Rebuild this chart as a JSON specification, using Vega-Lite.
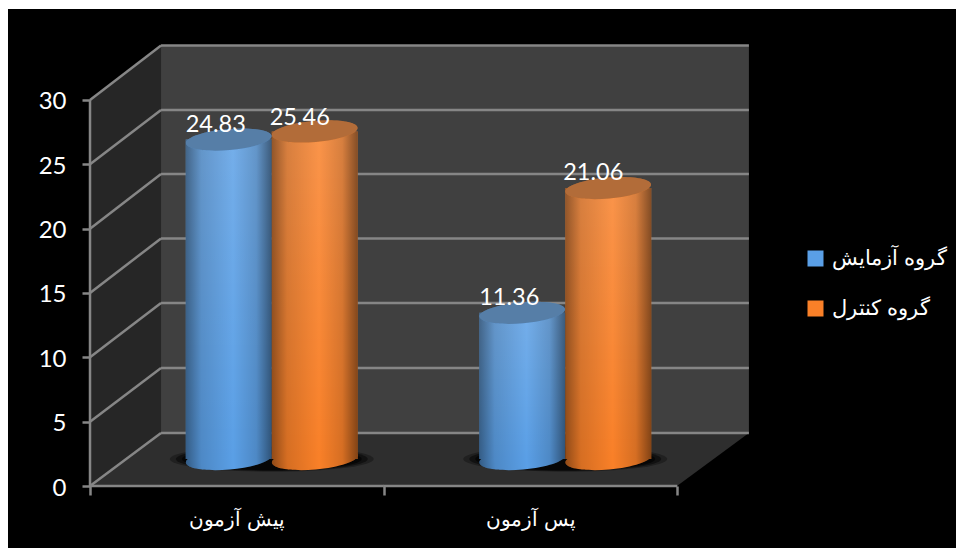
{
  "$schema": "https://vega.github.io/schema/vega-lite/v6.json",
  "autosize": "none",
  "width": 866,
  "height": 446,
  "padding": {"left": 90, "top": 40, "right": 0, "bottom": 62},
  "background": "#ffffff",
  "config": {"view": {"stroke": null}, "text": {"font": "Lato"}},
  "datasets": {
    "results": [
      {"phase": "پیش آزمون", "group": "گروه آزمایش", "score": 24.83},
      {"phase": "پیش آزمون", "group": "گروه کنترل", "score": 25.46},
      {"phase": "پس آزمون", "group": "گروه آزمایش", "score": 11.36},
      {"phase": "پس آزمون", "group": "گروه کنترل", "score": 21.06}
    ],
    "phases": [{"phase": "پیش آزمون"}, {"phase": "پس آزمون"}],
    "gridlines": [
      {"front": 0, "back": 4.12},
      {"front": 5, "back": 9.17},
      {"front": 10, "back": 14.22},
      {"front": 15, "back": 19.24},
      {"front": 20, "back": 24.25},
      {"front": 25, "back": 29.22},
      {"front": 30, "back": 34.23}
    ],
    "sideWall": [
      {"run": 0, "low": 0, "high": 30},
      {"run": 0.242, "low": 4.12, "high": 34.23}
    ],
    "floor": [
      {"level": 0, "start": 0, "end": 2},
      {"level": 4.12, "start": 0.242, "end": 2.245}
    ],
    "backWall": [{"start": 0.242, "end": 2.245, "low": 4.12, "high": 34.23}],
    "panel": [{"start": -0.2794, "end": 2.9506, "low": -4.82, "high": 37.07}]
  },
  "resolve": {"scale": {"x": "independent", "y": "independent"}},
  "layer": [
    {
      "description": "Room behind the columns: panel, walls, floor and gridlines",
      "encoding": {
        "x": {"type": "quantitative", "scale": {"domain": [0, 2.9506], "nice": false, "zero": false}, "axis": null},
        "y": {"type": "quantitative", "scale": {"domain": [0, 34.66], "nice": false, "zero": false}}
      },
      "layer": [
        {
          "data": {"name": "panel"},
          "mark": {"type": "rect", "fill": "#000000"},
          "encoding": {
            "x": {"field": "start", "type": "quantitative"},
            "x2": {"field": "end"},
            "y": {"field": "low", "type": "quantitative", "axis": {"values": [0, 5, 10, 15, 20, 25, 30], "format": "d", "title": null, "grid": false, "domain": false, "tickSize": 8, "tickWidth": 2.5, "tickColor": "#868686", "labelColor": "#ffffff", "labelFont": "Lato", "labelFontSize": 24, "labelPadding": 16, "labelOffset": 2, "zindex": 1}},
            "y2": {"field": "high"}
          }
        },
        {
          "data": {"name": "sideWall"},
          "mark": {"type": "area", "orient": "vertical", "fill": "#262626"},
          "encoding": {
            "x": {"field": "run", "type": "quantitative"},
            "y": {"field": "low", "type": "quantitative"},
            "y2": {"field": "high"}
          }
        },
        {
          "data": {"name": "backWall"},
          "mark": {"type": "rect", "fill": "#404040"},
          "encoding": {
            "x": {"field": "start", "type": "quantitative"},
            "x2": {"field": "end"},
            "y": {"field": "low", "type": "quantitative"},
            "y2": {"field": "high"}
          }
        },
        {
          "data": {"name": "floor"},
          "mark": {"type": "area", "orient": "horizontal", "fill": "#2e2e2e"},
          "encoding": {
            "y": {"field": "level", "type": "quantitative"},
            "x": {"field": "start", "type": "quantitative"},
            "x2": {"field": "end"}
          }
        },
        {
          "data": {"name": "gridlines"},
          "mark": {"type": "rule", "stroke": "#868686", "strokeWidth": 2.5},
          "encoding": {
            "x": {"datum": 0, "type": "quantitative"},
            "x2": {"datum": 0.242},
            "y": {"field": "front", "type": "quantitative"},
            "y2": {"field": "back"}
          }
        },
        {
          "data": {"name": "gridlines"},
          "mark": {"type": "rule", "stroke": "#868686", "strokeWidth": 2.5},
          "encoding": {
            "x": {"datum": 0.242, "type": "quantitative"},
            "x2": {"datum": 2.245},
            "y": {"field": "back", "type": "quantitative"}
          }
        },
        {
          "data": {"name": "gridlines"},
          "transform": [{"filter": "datum.front == 0"}],
          "mark": {"type": "rule", "stroke": "#868686", "strokeWidth": 2.5},
          "encoding": {
            "x": {"datum": 0, "type": "quantitative"},
            "y": {"field": "front", "type": "quantitative"},
            "y2": {"datum": 30}
          }
        }
      ]
    },
    {
      "description": "Front floor edge carrying the category axis",
      "data": {"name": "phases"},
      "mark": {"type": "tick", "orient": "horizontal", "size": 294, "thickness": 2.5, "color": "#868686", "opacity": 1},
      "encoding": {
        "x": {
          "field": "phase", "type": "nominal", "sort": null,
          "scale": {"range": [0, 587], "paddingInner": 0, "paddingOuter": 0},
          "axis": {"title": null, "domain": false, "tickBand": "extent", "tickSize": 9, "tickWidth": 2.5, "tickColor": "#868686", "labelAngle": 0, "labelColor": "#ffffff", "labelFont": "Liberation Sans", "labelFontSize": 20, "labelPadding": 14, "zindex": 1}
        },
        "y": {"datum": 0, "type": "quantitative", "scale": {"domain": [0, 34.66], "nice": false, "zero": false}, "axis": null}
      }
    },
    {
      "description": "Columns standing half a depth behind the front edge",
      "encoding": {
        "x": {
          "field": "phase", "type": "nominal", "sort": null,
          "scale": {"domain": ["پیش آزمون", "پس آزمون"], "range": [35, 622], "paddingInner": 0, "paddingOuter": 0},
          "axis": null
        },
        "y": {"type": "quantitative", "scale": {"domain": [0, 30], "range": [419, 33], "nice": false, "zero": false}, "axis": null}
      },
      "layer": [
        {
          "data": {"name": "phases"},
          "mark": {"type": "point", "filled": true, "fill": "#000000", "opacity": 0.3, "size": 41616, "shape": "M-1 0C-1 -.07 -.552 -.125 0 -.125C.552 -.125 1 -.07 1 0C1 .07 .552 .125 0 .125C-.552 .125 -1 .07 -1 0Z"},
          "encoding": {"y": {"datum": 0, "type": "quantitative"}}
        },
        {
          "data": {"name": "phases"},
          "mark": {"type": "point", "filled": true, "fill": "#000000", "opacity": 0.45, "size": 36864, "shape": "M-1 0C-1 -.07 -.552 -.125 0 -.125C.552 -.125 1 -.07 1 0C1 .07 .552 .125 0 .125C-.552 .125 -1 .07 -1 0Z"},
          "encoding": {"y": {"datum": 0, "type": "quantitative"}}
        },
        {
          "data": {"name": "phases"},
          "mark": {"type": "point", "filled": true, "fill": "#000000", "opacity": 0.6, "size": 32400, "shape": "M-1 0C-1 -.07 -.552 -.125 0 -.125C.552 -.125 1 -.07 1 0C1 .07 .552 .125 0 .125C-.552 .125 -1 .07 -1 0Z"},
          "encoding": {"y": {"datum": 0, "type": "quantitative"}}
        },
        {
          "data": {"name": "results"},
          "mark": {"type": "point", "filled": true, "opacity": 1, "size": 7396, "angle": -5, "shape": "M-1 0C-1 -.135 -.552 -.245 0 -.245C.552 -.245 1 -.135 1 0C1 .135 .552 .245 0 .245C-.552 .245 -1 .135 -1 0Z"},
          "encoding": {
            "xOffset": {"field": "group", "type": "nominal", "sort": null, "scale": {"paddingOuter": 0.706, "paddingInner": 0}},
            "y": {"datum": 0, "type": "quantitative"},
            "color": {
              "field": "group", "type": "nominal", "sort": null,
              "scale": {
                "domain": ["گروه آزمایش", "گروه کنترل"],
                "range": ["#5a9fe6", "#f98028"]
              },
              "legend": {
                "title": null, "orient": "none", "legendX": 715, "legendY": 208,
                "symbolType": "square", "symbolSize": 256, "symbolStrokeWidth": 0, "symbolOpacity": 1,
                "rowPadding": 28, "labelFont": "Liberation Sans", "labelFontSize": 21, "labelColor": "#ffffff", "labelOffset": 6
              }
            }
          }
        },
        {
          "data": {"name": "results"},
          "mark": {
            "type": "point", "filled": true, "opacity": 1, "size": 7396, "angle": -5,
            "shape": "M-1 0C-1 -.135 -.552 -.245 0 -.245C.552 -.245 1 -.135 1 0C1 .135 .552 .245 0 .245C-.552 .245 -1 .135 -1 0Z",
            "fill": {"gradient": "linear", "x1": 0, "y1": 0, "x2": 1, "y2": 0, "stops": [
              {"offset": 0, "color": "rgba(0,0,0,0.42)"},
              {"offset": 0.18, "color": "rgba(0,0,0,0.14)"},
              {"offset": 0.55, "color": "rgba(0,0,0,0)"},
              {"offset": 0.82, "color": "rgba(0,0,0,0.14)"},
              {"offset": 1, "color": "rgba(0,0,0,0.48)"}
            ]}
          },
          "encoding": {
            "xOffset": {"field": "group", "type": "nominal", "sort": null, "scale": {"paddingOuter": 0.706, "paddingInner": 0}},
            "y": {"datum": 0, "type": "quantitative"}
          }
        },
        {
          "data": {"name": "results"},
          "mark": {"type": "bar", "opacity": 1},
          "encoding": {
            "xOffset": {"field": "group", "type": "nominal", "sort": null, "scale": {"paddingOuter": 0.706, "paddingInner": 0}},
            "y": {"field": "score", "type": "quantitative"},
            "color": {"field": "group", "type": "nominal", "sort": null}
          }
        },
        {
          "data": {"name": "results"},
          "mark": {
            "type": "bar",
            "fill": {"gradient": "linear", "x1": 0, "y1": 0, "x2": 0, "y2": 1, "stops": [
              {"offset": 0, "color": "rgba(255,255,255,0.16)"},
              {"offset": 1, "color": "rgba(255,255,255,0)"}
            ]}
          },
          "encoding": {
            "xOffset": {"field": "group", "type": "nominal", "sort": null, "scale": {"paddingOuter": 0.706, "paddingInner": 0}},
            "y": {"field": "score", "type": "quantitative"}
          }
        },
        {
          "data": {"name": "results"},
          "mark": {
            "type": "bar",
            "fill": {"gradient": "linear", "x1": 0, "y1": 0, "x2": 1, "y2": 0, "stops": [
              {"offset": 0, "color": "rgba(0,0,0,0.42)"},
              {"offset": 0.18, "color": "rgba(0,0,0,0.14)"},
              {"offset": 0.55, "color": "rgba(0,0,0,0)"},
              {"offset": 0.82, "color": "rgba(0,0,0,0.14)"},
              {"offset": 1, "color": "rgba(0,0,0,0.48)"}
            ]}
          },
          "encoding": {
            "xOffset": {"field": "group", "type": "nominal", "sort": null, "scale": {"paddingOuter": 0.706, "paddingInner": 0}},
            "y": {"field": "score", "type": "quantitative"}
          }
        },
        {
          "data": {"name": "results"},
          "mark": {"type": "point", "filled": true, "opacity": 1, "size": 7396, "angle": -5, "shape": "M-1 0C-1 -.135 -.552 -.245 0 -.245C.552 -.245 1 -.135 1 0C1 .135 .552 .245 0 .245C-.552 .245 -1 .135 -1 0Z"},
          "encoding": {
            "xOffset": {"field": "group", "type": "nominal", "sort": null, "scale": {"paddingOuter": 0.706, "paddingInner": 0}},
            "y": {"field": "score", "type": "quantitative"},
            "color": {"field": "group", "type": "nominal", "sort": null}
          }
        },
        {
          "data": {"name": "results"},
          "mark": {"type": "point", "filled": true, "fill": "#505050", "opacity": 0.42, "size": 7396, "angle": -5, "shape": "M-1 0C-1 -.135 -.552 -.245 0 -.245C.552 -.245 1 -.135 1 0C1 .135 .552 .245 0 .245C-.552 .245 -1 .135 -1 0Z"},
          "encoding": {
            "xOffset": {"field": "group", "type": "nominal", "sort": null, "scale": {"paddingOuter": 0.706, "paddingInner": 0}},
            "y": {"field": "score", "type": "quantitative"}
          }
        },
        {
          "data": {"name": "results"},
          "transform": [{"filter": "datum.score == 24.83"}],
          "mark": {"type": "text", "font": "Lato", "fontSize": 23.5, "fill": "#ffffff", "dx": -13, "dy": -15},
          "encoding": {
            "xOffset": {"field": "group", "type": "nominal", "sort": null, "scale": {"paddingOuter": 0.706, "paddingInner": 0}},
            "y": {"field": "score", "type": "quantitative"},
            "text": {"field": "score", "type": "quantitative", "format": ".2f"}
          }
        },
        {
          "data": {"name": "results"},
          "transform": [{"filter": "datum.score == 25.46"}],
          "mark": {"type": "text", "font": "Lato", "fontSize": 23.5, "fill": "#ffffff", "dx": -15, "dy": -13},
          "encoding": {
            "xOffset": {"field": "group", "type": "nominal", "sort": null, "scale": {"paddingOuter": 0.706, "paddingInner": 0}},
            "y": {"field": "score", "type": "quantitative"},
            "text": {"field": "score", "type": "quantitative", "format": ".2f"}
          }
        },
        {
          "data": {"name": "results"},
          "transform": [{"filter": "datum.score == 11.36"}],
          "mark": {"type": "text", "font": "Lato", "fontSize": 23.5, "fill": "#ffffff", "dx": -13, "dy": -15},
          "encoding": {
            "xOffset": {"field": "group", "type": "nominal", "sort": null, "scale": {"paddingOuter": 0.706, "paddingInner": 0}},
            "y": {"field": "score", "type": "quantitative"},
            "text": {"field": "score", "type": "quantitative", "format": ".2f"}
          }
        },
        {
          "data": {"name": "results"},
          "transform": [{"filter": "datum.score == 21.06"}],
          "mark": {"type": "text", "font": "Lato", "fontSize": 23.5, "fill": "#ffffff", "dx": -15, "dy": -15},
          "encoding": {
            "xOffset": {"field": "group", "type": "nominal", "sort": null, "scale": {"paddingOuter": 0.706, "paddingInner": 0}},
            "y": {"field": "score", "type": "quantitative"},
            "text": {"field": "score", "type": "quantitative", "format": ".2f"}
          }
        }
      ]
    }
  ]
}
